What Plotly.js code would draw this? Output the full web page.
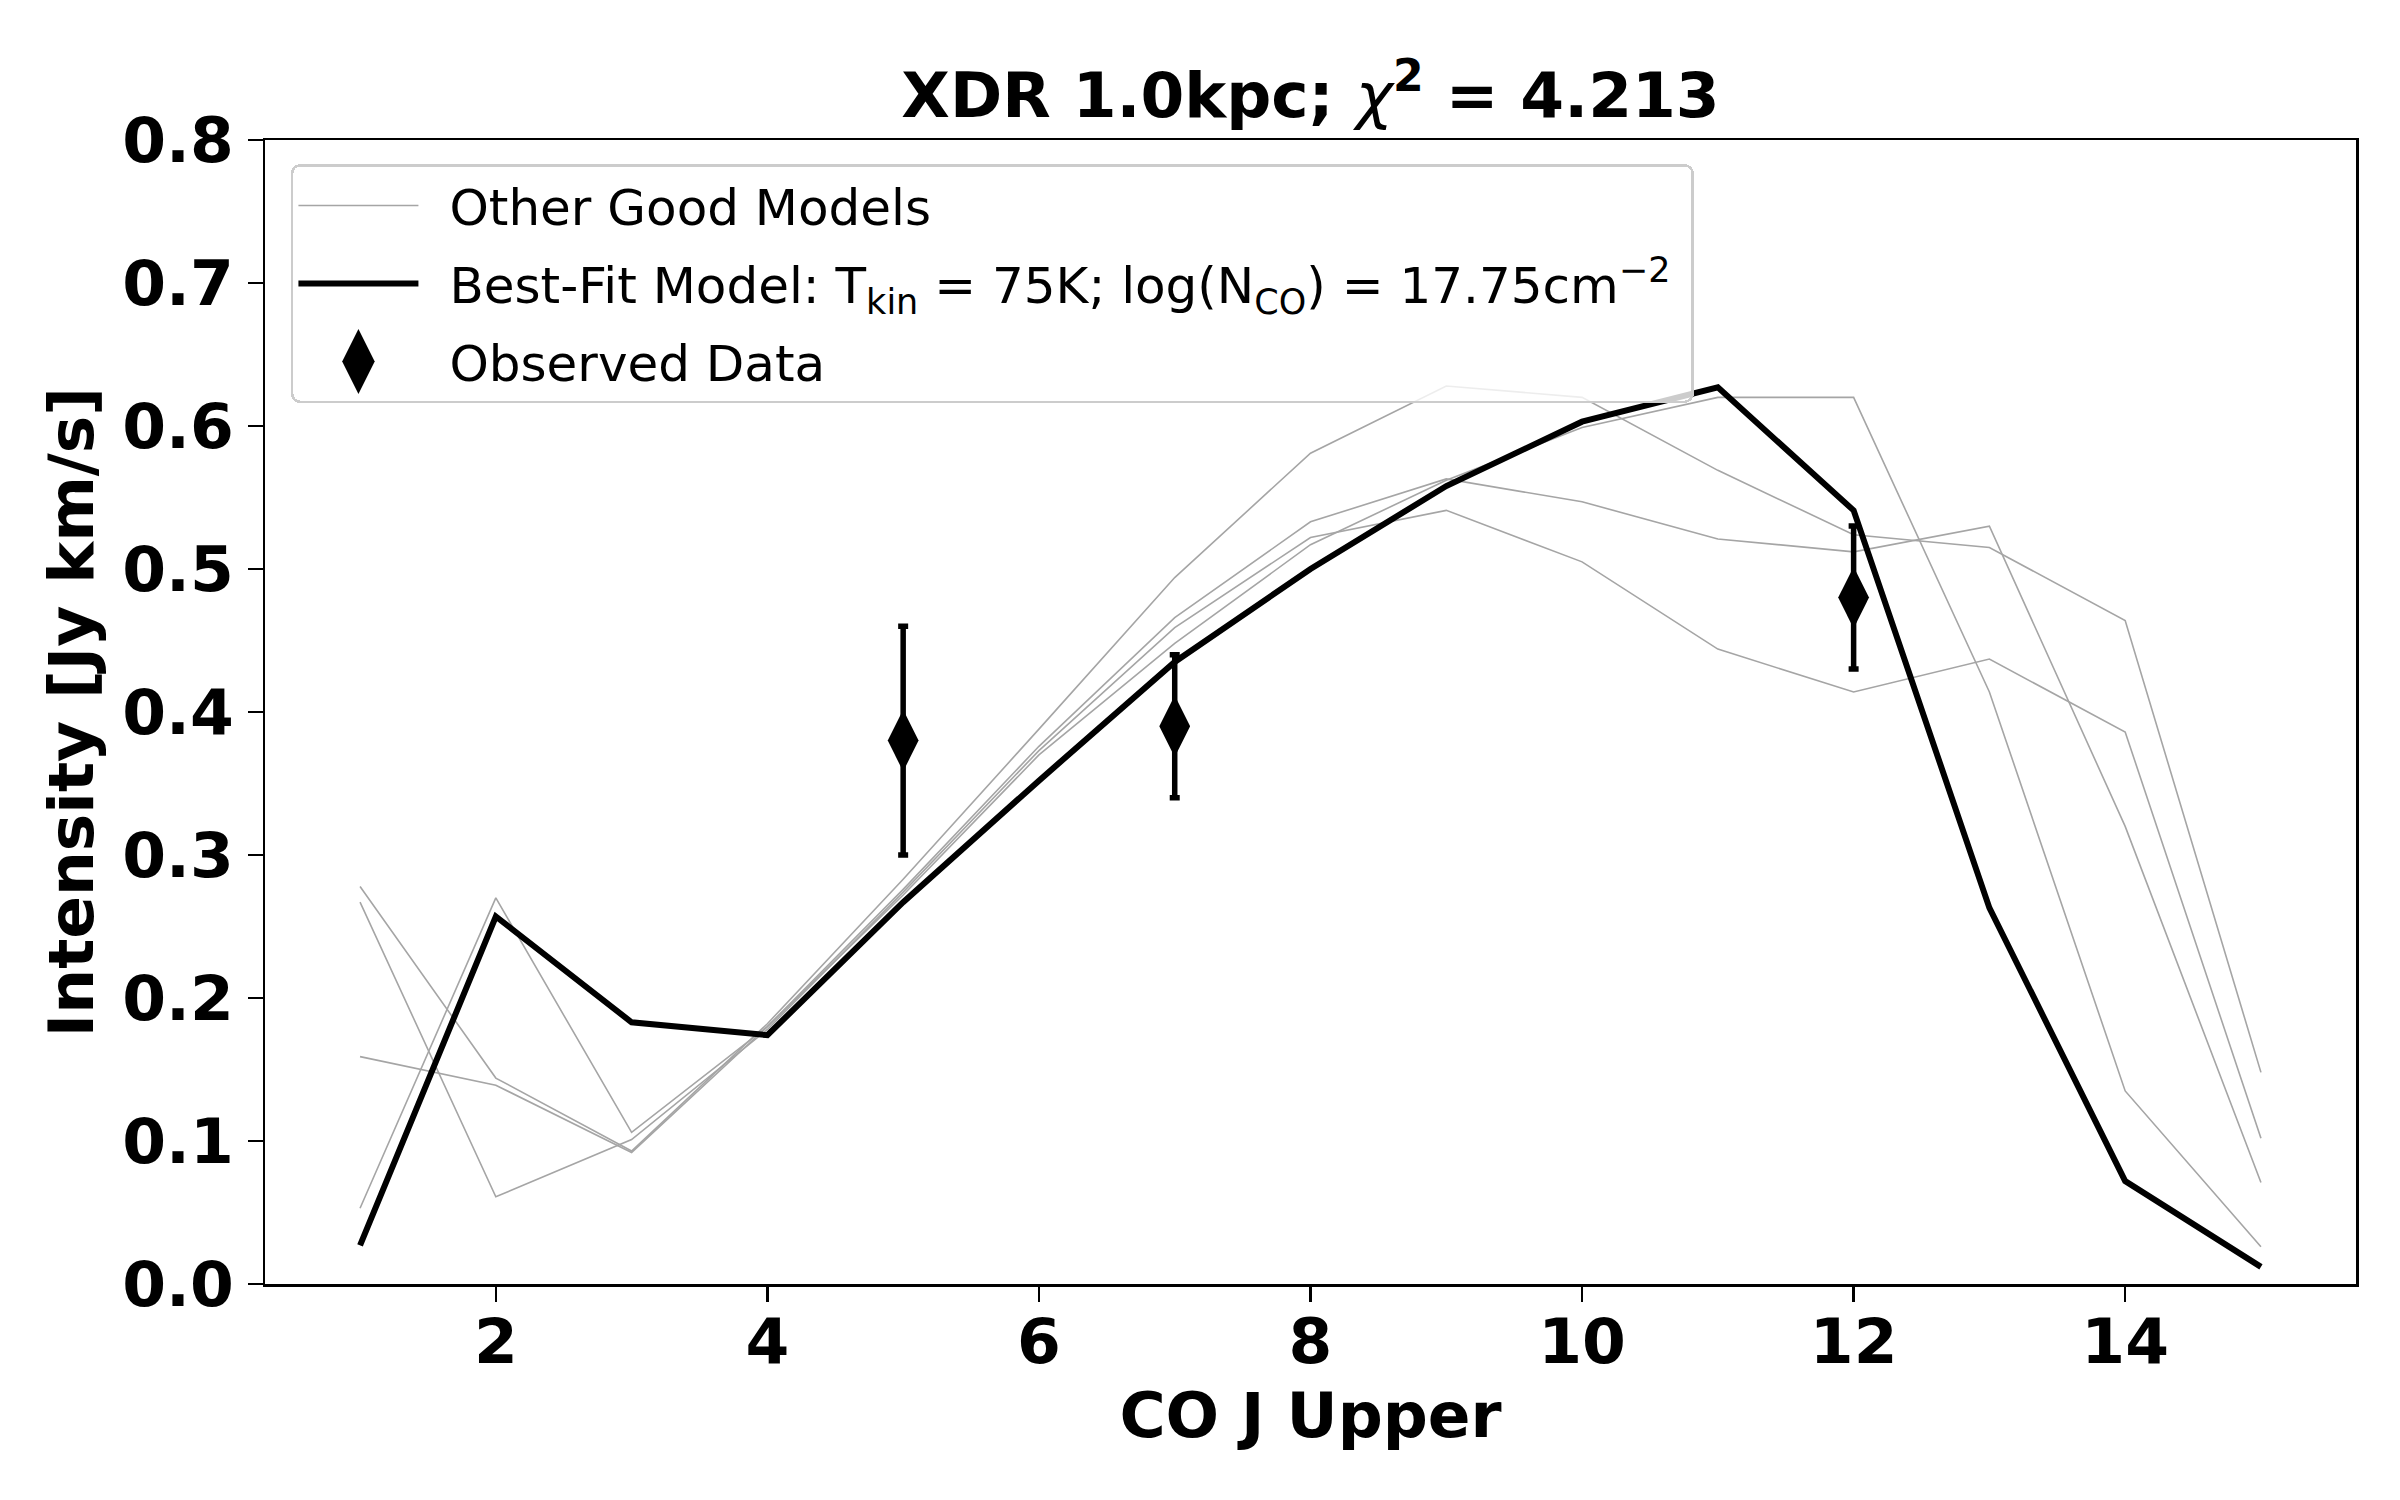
<!DOCTYPE html>
<html>
<head>
<meta charset="utf-8">
<script src="https://cdn.plot.ly/plotly-3.0.1.min.js"></script>
<style>html,body{margin:0;padding:0;background:#fff;}#chart{width:2400px;height:1500px;}</style>
</head>
<body>
<div id="chart"></div>
<script>
// ---- data ----
const jUpper = [1, 2, 3, 4, 5, 6, 7, 8, 9, 10, 11, 12, 13, 14, 15];

const bestFit = [0.027, 0.257, 0.183, 0.174, 0.267, 0.352, 0.435, 0.500, 0.558, 0.603, 0.627, 0.541, 0.263, 0.072, 0.012];

const otherModel1 = [0.278, 0.144, 0.093, 0.182, 0.283, 0.388, 0.494, 0.581, 0.628, 0.620, 0.569, 0.524, 0.515, 0.464, 0.148];
const otherModel2 = [0.053, 0.270, 0.106, 0.180, 0.272, 0.370, 0.448, 0.517, 0.562, 0.599, 0.620, 0.620, 0.414, 0.135, 0.026];
const otherModel3 = [0.159, 0.139, 0.092, 0.180, 0.276, 0.376, 0.466, 0.533, 0.563, 0.547, 0.521, 0.512, 0.530, 0.320, 0.071];
const otherModel4 = [0.267, 0.061, 0.101, 0.178, 0.274, 0.373, 0.459, 0.522, 0.541, 0.505, 0.444, 0.414, 0.437, 0.386, 0.102];

const obsJ = [5, 7, 12];
const obsIntensity = [0.38, 0.39, 0.48];
const obsError = [0.08, 0.05, 0.05];

const xTicks = [2, 4, 6, 8, 10, 12, 14];
const yTicks = [0.0, 0.1, 0.2, 0.3, 0.4, 0.5, 0.6, 0.7, 0.8];

const otherModels = [otherModel1, otherModel2, otherModel3, otherModel4];

// ---- traces ----
const traces = [];
otherModels.forEach((m, i) => {
  traces.push({
    x: jUpper, y: m, type: 'scatter', mode: 'lines',
    line: {color: 'rgb(165,165,165)', width: 1.6},
    name: 'Other Good Models',
    legendgroup: 'other',
    showlegend: i === 0,
    hoverinfo: 'skip'
  });
});
traces.push({
  x: jUpper, y: bestFit, type: 'scatter', mode: 'lines',
  line: {color: 'black', width: 6},
  name: 'Best-Fit Model: T<sub>kin</sub> = 75K; log(N<sub>CO</sub>) = 17.75cm<sup>\u22122</sup>',
  legendgroup: 'best'
});
traces.push({
  x: obsJ, y: obsIntensity, type: 'scatter', mode: 'markers',
  marker: {symbol: 'diamond-tall', size: 44, color: 'black'},
  error_y: {type: 'data', array: obsError, visible: true, color: 'black', thickness: 5.5, width: 5},
  name: 'Observed Data',
  legendgroup: 'obs'
});

const boldFont = {family: 'DejaVu Sans', size: 63, color: 'black', weight: 'bold'};

const layout = {
  width: 2400, height: 1500,
  margin: {l: 265, r: 44, t: 140, b: 216},
  paper_bgcolor: 'white', plot_bgcolor: 'white',
  title: {
    text: 'XDR 1.0kpc; <span style="font-weight:normal;font-style:italic">\u03c7</span><sup>2</sup> = 4.213',
    font: boldFont,
    x: 0.5, xref: 'paper', xanchor: 'center',
    y: 1 - 95 / 1500, yref: 'container', yanchor: 'middle'
  },
  xaxis: {
    range: [0.3, 15.7],
    tickvals: xTicks,
    ticktext: xTicks.map(String),
    ticks: 'outside', ticklen: 15, tickwidth: 2.5, tickcolor: 'black',
    showline: true, linecolor: 'black', linewidth: 2.5, mirror: true,
    showgrid: false, zeroline: false,
    tickfont: boldFont,
    ticklabelstandoff: -14,
    title: {text: 'CO J Upper', font: boldFont, standoff: 16}
  },
  yaxis: {
    range: [0, 0.8],
    tickvals: yTicks,
    ticktext: yTicks.map(v => v.toFixed(1)),
    ticks: 'outside', ticklen: 15, tickwidth: 2.5, tickcolor: 'black',
    showline: true, linecolor: 'black', linewidth: 2.5, mirror: true,
    showgrid: false, zeroline: false,
    tickfont: boldFont,
    ticklabelstandoff: 1,
    title: {text: 'Intensity [Jy km/s]', font: boldFont, standoff: 8}
  },
  legend: {
    x: 0.0124, y: 0.979, xanchor: 'left', yanchor: 'top',
    bgcolor: 'rgba(255,255,255,0.8)', bordercolor: '#cccccc', borderwidth: 2.5,
    font: {family: 'DejaVu Sans', size: 50, color: 'black'},
    itemwidth: 120,
    tracegroupgap: 10,
    traceorder: 'grouped'
  },
  showlegend: true
};

const TEXT_SHIFT = 26;
const EXTRA_BOX = 16;
Plotly.newPlot('chart', traces, layout, {displayModeBar: false, staticPlot: true}).then(() => {
  // enlarge the legend diamond and add the text gap seen in the reference legend
  document.querySelectorAll('#chart .legend .traces').forEach(tr => {
    const txt = tr.querySelector('.legendtext');
    if (!txt) return;
    const t0 = txt.getAttribute('transform') || '';
    txt.setAttribute('transform', t0 + ' translate(' + TEXT_SHIFT + ',0)');
    if (txt.textContent.indexOf('Observed') === 0) {
      tr.querySelectorAll('.legendpoints path.scatterpts').forEach(p => {
        const t = p.getAttribute('transform') || '';
        p.setAttribute('transform', t + ' scale(2.9)');
      });
    }
  });
  const bg = document.querySelector('#chart .legend .bg');
  if (bg) {
    const w = parseFloat(bg.getAttribute('width'));
    bg.setAttribute('width', w + TEXT_SHIFT + EXTRA_BOX);
    bg.setAttribute('rx', 8); bg.setAttribute('ry', 8);
  }
  // widen the legend clip region so the shifted text is not cut
  document.querySelectorAll('#chart clipPath').forEach(cp => {
    if (/legend/.test(cp.id)) {
      cp.querySelectorAll('rect').forEach(r => {
        const w = parseFloat(r.getAttribute('width'));
        if (!isNaN(w)) r.setAttribute('width', w + TEXT_SHIFT + EXTRA_BOX + 10);
      });
    }
  });
});
</script>
</body>
</html>
